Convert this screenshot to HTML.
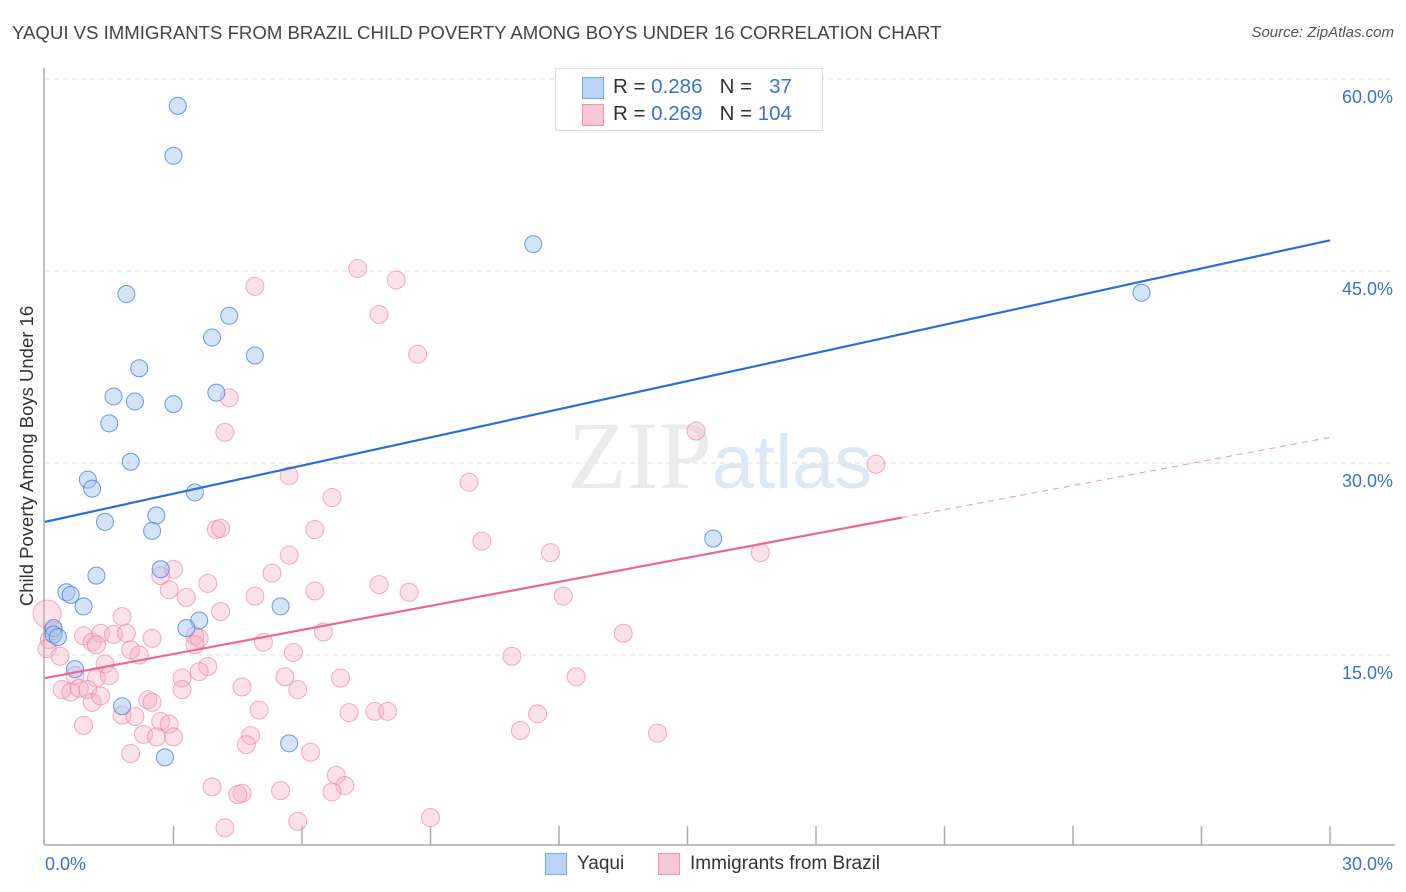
<!DOCTYPE html>
<html><head><meta charset="utf-8">
<style>
body{margin:0;background:#fff;font-family:"Liberation Sans",sans-serif;}
#wrap{position:relative;width:1406px;height:892px;overflow:hidden;}
.t{position:absolute;white-space:nowrap;}
</style></head>
<body>
<div id="wrap">
<div class="t" style="left:12px;top:22px;font-size:18.6px;color:#444;">YAQUI VS IMMIGRANTS FROM BRAZIL CHILD POVERTY AMONG BOYS UNDER 16 CORRELATION CHART</div>
<div class="t" style="right:12px;top:24px;font-size:15px;color:#555;font-style:italic;">Source: ZipAtlas.com</div>
<div class="t" style="left:27px;top:456px;font-size:18.5px;color:#333;transform:translate(-50%,-50%) rotate(-90deg);">Child Poverty Among Boys Under 16</div>
<svg id="plot" width="1406" height="892" style="position:absolute;left:0;top:0"></svg>
<div style="position:absolute;left:555px;top:68px;width:266px;height:61px;border:1px solid #ddd;background:#fff;font-size:20.5px;">
  <div style="position:absolute;left:26px;top:8px;width:20px;height:20px;background:#b9d3f5;border:1px solid #7aa7e6;"></div>
  <div class="t" style="left:57px;top:6px;color:#333;">R = <span style="color:#3a72d0">0.286</span>&nbsp;&nbsp;&nbsp;N = &nbsp;&nbsp;<span style="color:#3a72d0">37</span></div>
  <div style="position:absolute;left:26px;top:35px;width:20px;height:20px;background:#f9c6d6;border:1px solid #ef93b0;"></div>
  <div class="t" style="left:57px;top:33px;color:#333;">R = <span style="color:#3a72d0">0.269</span>&nbsp;&nbsp;&nbsp;N = <span style="color:#3a72d0">104</span></div>
</div>
<div style="position:absolute;left:545px;top:853px;">
  <div style="position:absolute;left:0;top:0;width:20px;height:20px;background:#b9d3f5;border:1px solid #7aa7e6;"></div>
  <div class="t" style="left:32px;top:0;font-size:19px;color:#333;">Yaqui</div>
</div>
<div style="position:absolute;left:658px;top:853px;">
  <div style="position:absolute;left:0;top:0;width:20px;height:20px;background:#f9c6d6;border:1px solid #ef93b0;"></div>
  <div class="t" style="left:32px;top:0;font-size:19px;color:#333;">Immigrants from Brazil</div>
</div>
</div>
<script>
const yTicks=[15,30,45,60];
const xTickLabels=["0.0%","30.0%"];
const blueX=[3.1,3.0,11.4,25.6,1.9,4.3,3.9,4.9,2.2,1.6,2.1,3.0,4.0,1.5,2.0,1.0,1.1,3.5,1.4,2.6,2.5,15.6,1.2,2.7,0.5,0.6,0.9,5.5,3.6,3.3,0.2,0.2,0.3,0.7,1.8,5.7,2.8];
const blueY=[57.9,54.0,47.1,43.3,43.2,41.5,39.8,38.4,37.4,35.2,34.8,34.6,35.5,33.1,30.1,28.7,28.0,27.7,25.4,25.9,24.7,24.1,21.2,21.7,19.9,19.7,18.8,18.8,17.7,17.1,17.1,16.6,16.4,13.9,11.0,8.1,7.0];
const pinkX=[4.9,7.3,8.2,7.8,8.7,4.3,4.2,15.2,19.4,5.7,9.9,6.7,4.0,4.1,6.3,10.2,11.8,16.7,5.7,3.0,5.3,2.7,3.8,7.8,2.9,6.3,8.5,4.9,3.3,12.1,4.1,1.8,0.05,3.5,0.9,1.3,1.6,1.9,1.1,1.2,2.5,3.6,5.1,6.5,13.5,0.1,0.05,0.35,2.0,2.2,5.8,3.5,10.9,1.4,3.8,0.7,1.2,1.5,3.2,5.6,6.9,12.4,3.6,3.2,0.4,0.6,0.8,1.0,4.6,5.9,2.4,2.5,1.1,5.0,1.8,2.1,7.1,7.7,8.0,11.5,2.7,2.9,0.9,11.1,14.3,2.3,3.0,2.6,4.8,4.7,2.0,6.2,6.8,7.0,6.7,3.9,4.6,4.5,5.5,9.0,5.9,4.2,0.2,1.3];
const pinkY=[43.8,45.2,44.3,41.6,38.5,35.1,32.4,32.5,29.9,29.0,28.5,27.3,24.8,24.9,24.8,23.9,23.0,23.0,22.8,21.7,21.4,21.2,20.6,20.5,20.1,20.0,19.9,19.6,19.5,19.6,18.4,18.0,18.2,16.5,16.5,16.7,16.6,16.7,16.0,15.8,16.3,16.3,16.0,16.8,16.7,16.2,15.5,14.9,15.4,15.0,15.2,15.8,14.9,14.3,14.1,13.4,13.2,13.4,13.2,13.3,13.2,13.3,13.7,12.3,12.3,12.1,12.4,12.3,12.5,12.3,11.5,11.3,11.3,10.7,10.3,10.2,10.5,10.6,10.6,10.4,9.8,9.6,9.5,9.1,8.9,8.8,8.6,8.6,8.7,8.0,7.3,7.4,5.6,4.8,4.3,4.7,4.2,4.1,4.4,2.3,2.0,1.5,16.9,11.8];
const blueLine=[25.4,47.4];
const pinkLine=[13.2,32.0];
const pinkSolidEnd=20;

const NS="http://www.w3.org/2000/svg";
const svg=document.getElementById('plot');
const X=v=>45+v*1285/30;
const Y=v=>847-v*192/15;
function mk(tag,attrs){const e=document.createElementNS(NS,tag);for(const k in attrs)e.setAttribute(k,attrs[k]);svg.appendChild(e);return e;}
yTicks.forEach(t=>{
  const g=mk('line',{x1:45,x2:1395,y1:Y(t),y2:Y(t),stroke:'#ddd','stroke-dasharray':'5,4'});
  
  
  const tx=mk('text',{x:1393,y:Y(t)+24,'text-anchor':'end','font-size':18,fill:'#3a72d0','font-family':'Liberation Sans, sans-serif'});
  tx.textContent=t.toFixed(1)+'%';
  
  
});
const ax=mk('line',{x1:44,x2:1395,y1:845,y2:845,stroke:'#aaa','stroke-width':1.5});


const ay=mk('line',{x1:44,x2:44,y1:68,y2:845,stroke:'#aaa','stroke-width':1.5});


for(let i=1;i<=10;i++){
  const tk=mk('line',{x1:X(i*3),x2:X(i*3),y1:826,y2:845,stroke:'#aaa','stroke-width':1.5});
  
  
}
[[0,'start',45],[30,'end',1393]].forEach((a,i)=>{
  const t=mk('text',{x:a[2],y:870,'text-anchor':a[1],'font-size':18,fill:'#3a72d0','font-family':'Liberation Sans, sans-serif'});
  t.textContent=xTickLabels[i];
  
  
});
const wm=mk('text',{x:720,y:488,'text-anchor':'middle','font-size':96,fill:'#ebebeb','font-family':'Liberation Serif, serif'});
wm.innerHTML='ZIP<tspan fill="#dde8f7" font-family="Liberation Sans, sans-serif" font-size="76">atlas</tspan>';


pinkX.forEach((x,i)=>{
  const c=mk('circle',{cx:X(x),cy:Y(pinkY[i]),r:i===32?14:9,fill:'rgba(246,170,195,0.35)',stroke:'rgba(232,120,160,0.6)','stroke-width':1});
  
  
});
blueX.forEach((x,i)=>{
  const c=mk('circle',{cx:X(x),cy:Y(blueY[i]),r:8.5,fill:'rgba(160,195,240,0.45)',stroke:'rgba(70,130,215,0.8)','stroke-width':1});
  
  
});
const bl=mk('line',{x1:X(0),y1:Y(blueLine[0]),x2:X(30),y2:Y(blueLine[1]),stroke:'#2a6fd6','stroke-width':2.2});


const pe=pinkLine[0]+(pinkLine[1]-pinkLine[0])*pinkSolidEnd/30;
const pl=mk('line',{x1:X(0),y1:Y(pinkLine[0]),x2:X(pinkSolidEnd),y2:Y(pe),stroke:'#e8679a','stroke-width':2.2});


const pd=mk('line',{x1:X(pinkSolidEnd),y1:Y(pe),x2:X(30),y2:Y(pinkLine[1]),stroke:'#eea0bd','stroke-width':1.2,'stroke-dasharray':'6,5'});


</script>
</body></html>
